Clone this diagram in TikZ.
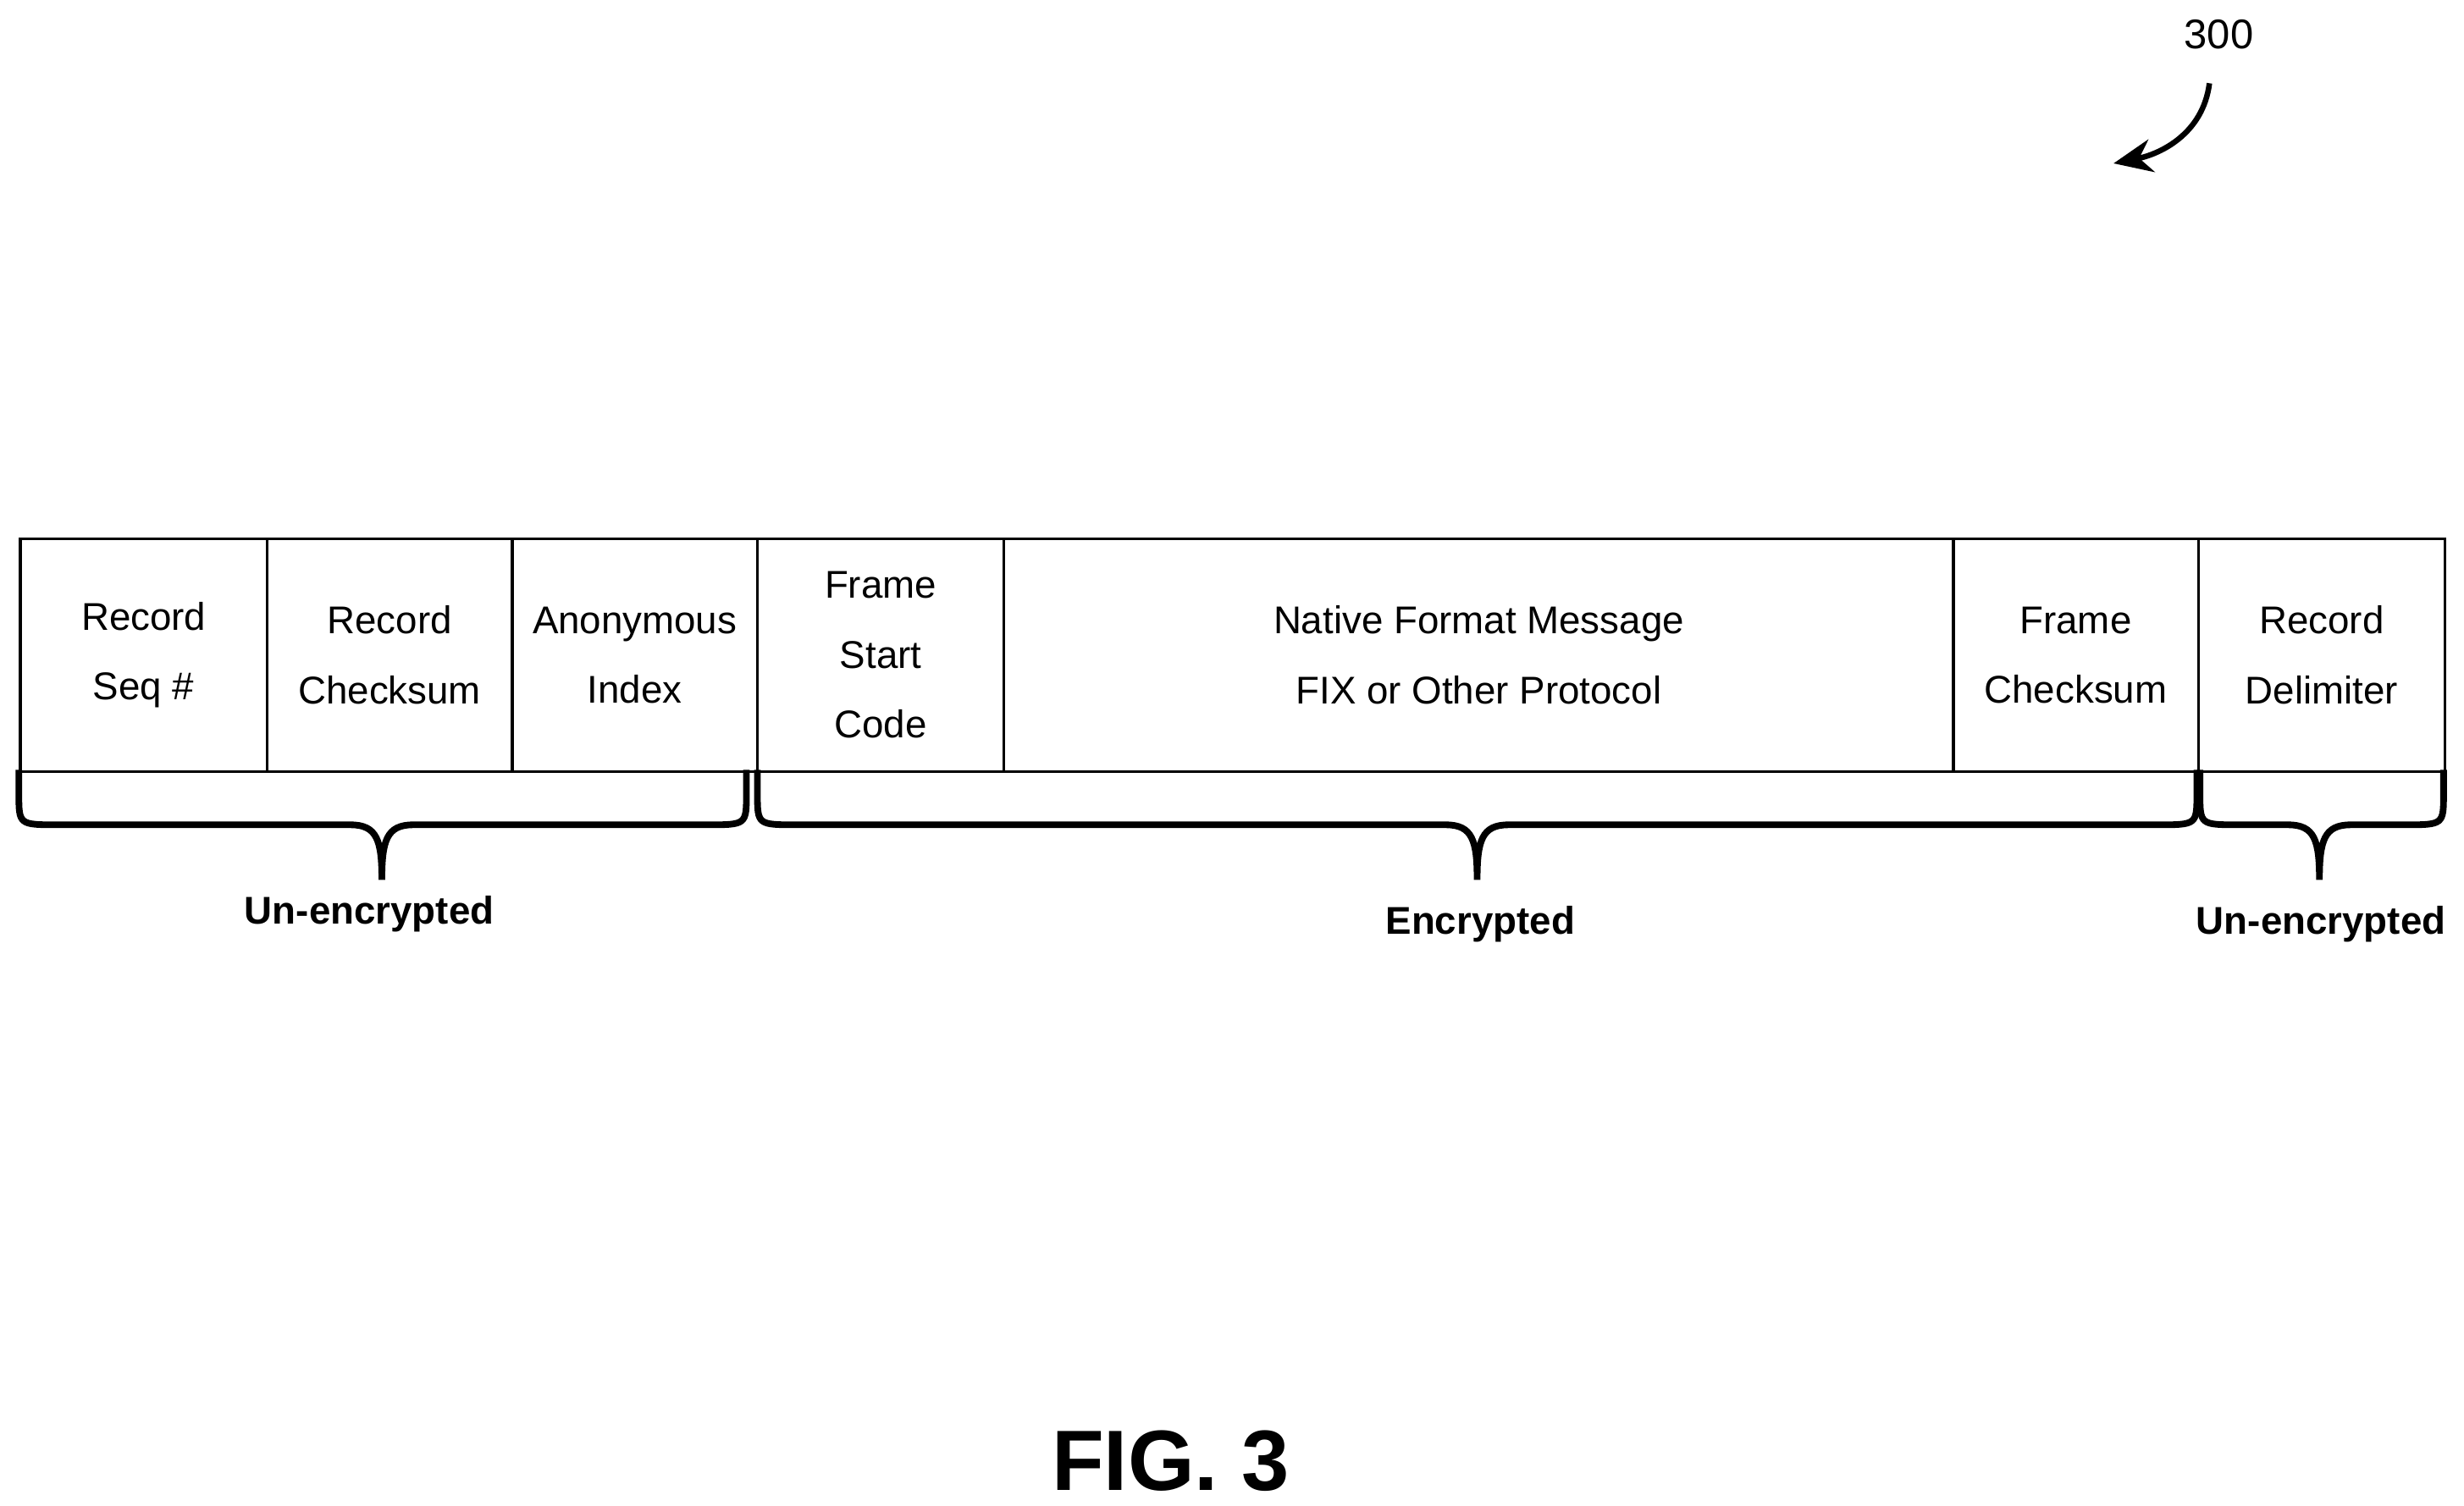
\documentclass[tikz,border=0pt]{standalone}
\usepackage{fontspec}
\setmainfont{Liberation Sans}
\usetikzlibrary{arrows.meta, positioning}

\tikzset{
  cell/.style={draw, line width=0.5pt, minimum height=1.48cm, inner sep=0pt,
    anchor=north west, align=center, font=\fontsize{7}{12.6}\selectfont},
  brace/.style={line width=1.2pt},
  bracelabel/.style={font=\bfseries\fontsize{7}{8}\selectfont}
}

% brace from x1 to x2, tip at xm (units of 0.01cm, y downward)
\newcommand{\fieldbrace}[3]{%
  \draw[brace] (#1,490) -- (#1,505) .. controls (#1,525) .. (#1+25,525)
    -- (#3-20,525) .. controls (#3-3,525) and (#3,535) .. (#3,560)
    .. controls (#3,535) and (#3+3,525) .. (#3+20,525)
    -- (#2-25,525) .. controls (#2,525) .. (#2,505) -- (#2,490);}

\begin{document}
\begin{tikzpicture}[x=0.01cm, y=-0.01cm]
        \useasboundingbox (0,0) rectangle (1568,958.5);

        % Record fields
        \node[cell, minimum width=1.57cm] (seq) at (12,342) {Record\\Seq \#};
        \node[cell, minimum width=1.56cm] (rchk) at (169,342) {Record\\Checksum};
        \node[cell, minimum width=1.56cm] (anon) at (325,342) {Anonymous\\Index};
        \node[cell, minimum width=1.57cm] (fstart) at (481,342) {Frame\\Start\\Code};
        \node[cell, minimum width=6.04cm] (msg) at (638,342) {Native Format Message\\FIX or Other Protocol};
        \node[cell, minimum width=1.56cm] (fchk) at (1242,342) {Frame\\Checksum};
        \node[cell, minimum width=1.57cm] (delim) at (1398,342) {Record\\Delimiter};

        % Braces
        \fieldbrace{12}{475}{243}
        \fieldbrace{482}{1398}{940}
        \fieldbrace{1400}{1555}{1476}

        \node[bracelabel] (lbl1) at (235,582) {Un-encrypted};
        \node[bracelabel] (lbl2) at (942,588) {Encrypted};
        \node[bracelabel] (lbl3) at (1477,588) {Un-encrypted};

        % Reference numeral
        \node[font=\fontsize{7.5}{9}\selectfont] (ref) at (1412,22) {300};
        \coordinate (reftip) at (1345,104);
        \draw[line width=1pt, -{Stealth[length=7pt, width=6pt]}]
            (1406,53) .. controls (1402,85) and (1375,98) .. (reftip);

        \node[font=\bfseries\fontsize{15.5}{18}\selectfont] (fig) at (745,930) {FIG. 3};
\end{tikzpicture}
\end{document}
